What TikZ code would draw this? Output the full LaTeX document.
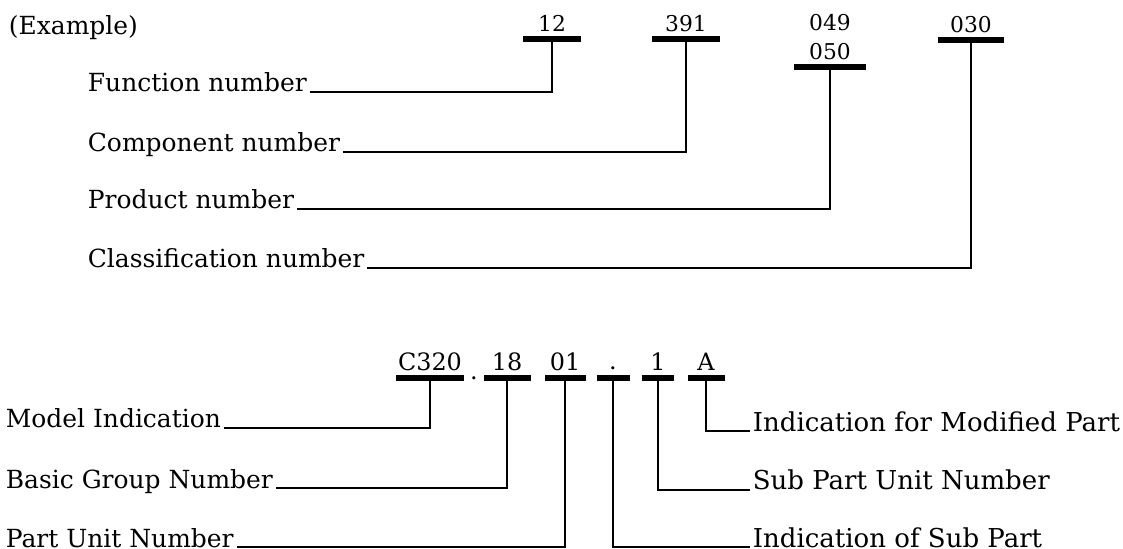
\documentclass[tikz,border=0pt]{standalone}
\usepackage{fontspec}
\setmainfont{DejaVu Serif}
\usepackage{tikz}
\usetikzlibrary{positioning}

\tikzset{
  bar/.style={fill=black, inner sep=0pt, minimum height=1.45pt},
  num/.style={inner sep=0pt, font=\fontsize{6.2}{7}\selectfont},
  bnum/.style={inner sep=0pt, font=\fontsize{6.8}{7}\selectfont},
  lbl/.style={anchor=base west, inner sep=0.6pt, font=\fontsize{7.1}{8}\selectfont},
  rlbl/.style={anchor=base west, inner sep=0.6pt, font=\fontsize{7.4}{8}\selectfont},
}

\begin{document}
\begin{tikzpicture}[line width=.45pt]
             \useasboundingbox (0,0) rectangle (11.23,-5.49);

             % upper example
             \node[lbl] (ex) at (0.06,-0.35) {(Example)};

             \node[bar, minimum width=.58cm] (b12)  at (5.52,-0.39) {};
             \node[bar, minimum width=.68cm] (b391) at (6.86,-0.39) {};
             \node[bar, minimum width=.72cm] (b050) at (8.30,-0.67) {};
             \node[bar, minimum width=.66cm] (b030) at (9.71,-0.40) {};

             \node[num, above=1pt of b12]  (n12)  {12};
             \node[num, above=1pt of b391] (n391) {391};
             \node[num, above=1pt of b050] (n050) {050};
             \node[num, above=3pt of n050] (n049) {049};
             \node[num, above=1pt of b030] (n030) {030};

             \node[lbl] (fn) at (0.85,-0.92) {Function number};
             \node[lbl] (cn) at (0.85,-1.52) {Component number};
             \node[lbl] (pn) at (0.85,-2.09) {Product number};
             \node[lbl] (kn) at (0.85,-2.68) {Classification number};

             \draw (fn.base east) -| (b12.south);
             \draw (cn.base east) -| (b391.south);
             \draw (pn.base east) -| (b050.south);
             \draw (kn.base east) -| (b030.south);

             % part number
             \node[bar, minimum width=.68cm] (bc)   at (4.30,-3.78) {};
             \node[bar, minimum width=.47cm] (b18)  at (5.07,-3.78) {};
             \node[bar, minimum width=.41cm] (b01)  at (5.65,-3.78) {};
             \node[bar, minimum width=.33cm] (bpt)  at (6.13,-3.78) {};
             \node[bar, minimum width=.32cm] (b1)   at (6.58,-3.78) {};
             \node[bar, minimum width=.37cm] (bA)   at (7.06,-3.78) {};

             \node[bnum, above=1pt of bc]  (nc)  {C320};
             \node[bnum, above=1pt of b18] (n18) {18};
             \node[bnum, above=1pt of b01] (n01) {01};
             \node[bnum, above=1pt of bpt] (npt) {.};
             \node[bnum, above=1pt of b1]  (n1)  {1};
             \node[bnum, above=1pt of bA]  (nA)  {A};
             \node[bnum, anchor=base] (sep) at (4.74,-3.80) {.};

             \node[lbl] (mi) at (0.03,-4.28) {Model Indication};
             \node[lbl] (bg) at (0.03,-4.88) {Basic Group Number};
             \node[lbl] (pu) at (0.03,-5.47) {Part Unit Number};

             \node[rlbl] (im) at (7.50,-4.31) {Indication for Modified Part};
             \node[rlbl] (su) at (7.50,-4.90) {Sub Part Unit Number};
             \node[rlbl] (is) at (7.50,-5.47) {Indication of Sub Part};

             \draw (mi.base east) -| (bc.south);
             \draw (bg.base east) -| (b18.south);
             \draw (pu.base east) -| (b01.south);
             \draw (bA.south) |- (im.base west);
             \draw (b1.south) |- (su.base west);
             \draw (bpt.south) |- (is.base west);
\end{tikzpicture}
\end{document}
